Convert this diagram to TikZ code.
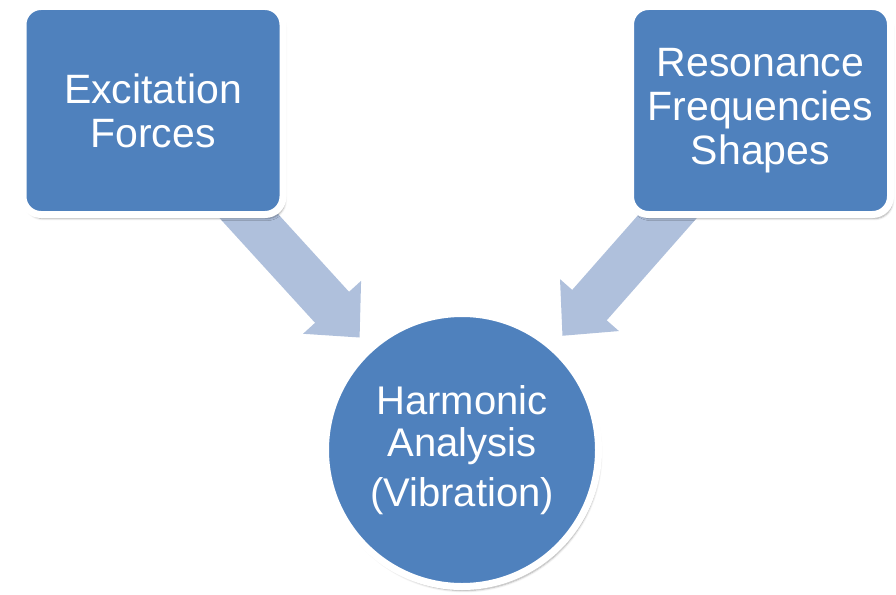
\documentclass[tikz,border=0pt]{standalone}
\usepackage{fontspec}
\setmainfont{Liberation Sans}
\usetikzlibrary{arrows.meta, shadows.blur, backgrounds}
\definecolor{smartblue}{RGB}{79,129,189}
\definecolor{arrowblue}{RGB}{175,192,220}
\tikzset{
  card/.style={rectangle,draw=white,fill=smartblue,line width=7pt,rounded corners=18pt,
    text=white,align=center,minimum width=260pt,minimum height=208pt,
    font=\fontsize{41}{44}\selectfont,
    blur shadow={shadow xshift=2pt,shadow yshift=-4pt,shadow opacity=35,shadow blur steps=6}},
  hub/.style={circle,draw=white,fill=smartblue,line width=7pt,text=white,align=center,
    minimum size=273pt,inner sep=0pt,font=\fontsize{40}{42}\selectfont,
    blur shadow={shadow xshift=2pt,shadow yshift=-4pt,shadow opacity=35,shadow blur steps=6}},
  fatarrow/.style={draw=arrowblue,line width=46pt,-{Triangle[length=41pt,width=76pt]},
    shorten <=-40pt,shorten >=12pt}
}

\begin{document}
\begin{tikzpicture}[x=1pt,y=-1pt]
\useasboundingbox (0,0) rectangle (896,594);
\node[card] (ex) at (153,110.5) {Excitation\\Forces};
\node[card] (rf) at (760.5,110.5) {Resonance\\Frequencies\\Shapes};
\node[hub] (ha) at (462,450) {Harmonic\\Analysis\\[8pt](Vibration)};
\begin{scope}[on background layer]
\draw[fatarrow] (ex) -- (ha);
\draw[fatarrow] (rf) -- (ha);
\end{scope}
\end{tikzpicture}
\end{document}
